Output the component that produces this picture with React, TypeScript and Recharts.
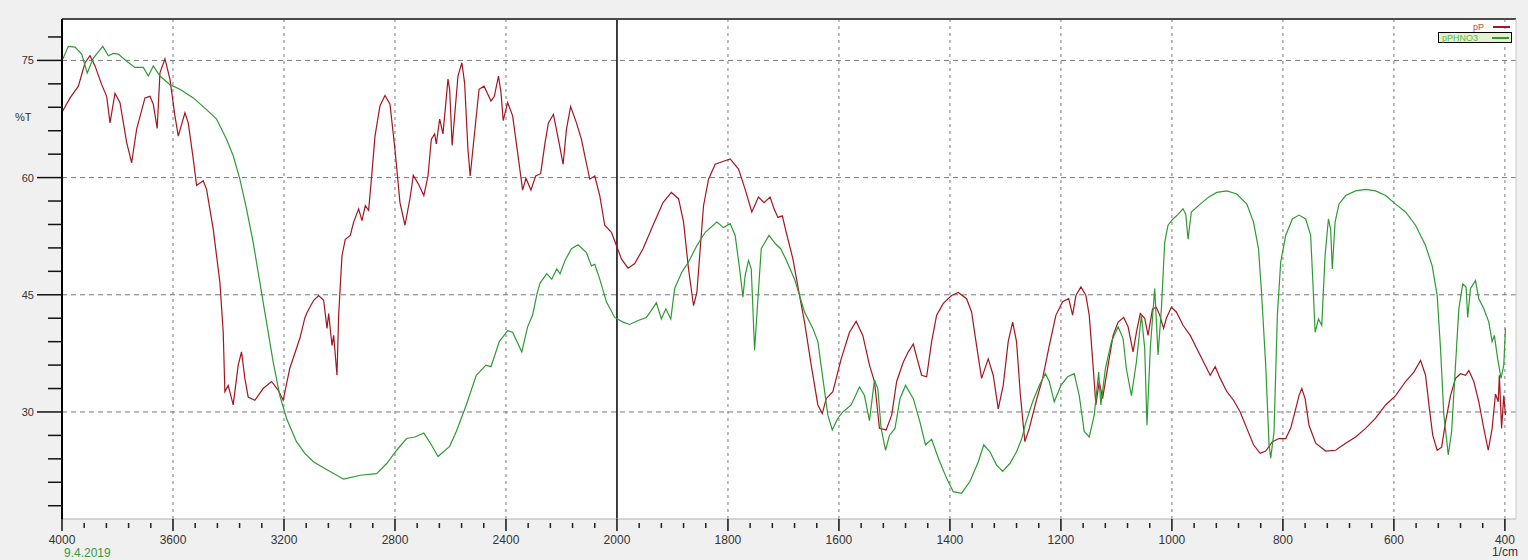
import React from "react";
import { LineChart, Line, XAxis, YAxis, CartesianGrid, ReferenceLine } from "recharts";

// wavenumber (1/cm), %T
const pPWave = [
  3998, 3971, 3941, 3917, 3899, 3881, 3857, 3839, 3827, 3809, 3791, 3767, 3749, 3731, 3701, 3683, 3671, 3657, 3647, 3629,
  3611, 3593, 3581, 3557, 3545, 3527, 3515, 3491, 3479, 3455, 3431, 3419, 3413, 3401, 3383, 3365, 3353, 3341, 3329, 3305,
  3275, 3245, 3221, 3203, 3179, 3143, 3125, 3116, 3093, 3075, 3057, 3045, 3039, 3027, 3021, 3009, 3003, 2991, 2979, 2961,
  2949, 2931, 2919, 2907, 2895, 2884, 2872, 2854, 2836, 2818, 2800, 2782, 2764, 2746, 2734, 2716, 2696, 2681, 2669, 2657,
  2651, 2639, 2627, 2621, 2609, 2603, 2594, 2585, 2573, 2559, 2549, 2537, 2529, 2513, 2497, 2479, 2454, 2442, 2427, 2418,
  2410, 2394, 2376, 2358, 2340, 2328, 2310, 2293, 2275, 2259, 2247, 2229, 2211, 2194, 2182, 2167, 2146, 2128, 2116, 2098,
  2080, 2062, 2044, 2020, 2002, 1992, 1980, 1968, 1953, 1935, 1917, 1902, 1889, 1880, 1871, 1862, 1856, 1850, 1844, 1835,
  1823, 1808, 1796, 1781, 1769, 1757, 1745, 1735, 1724, 1717, 1710, 1702, 1695, 1683, 1671, 1662, 1650, 1638, 1630, 1623,
  1611, 1596, 1581, 1569, 1557, 1545, 1536, 1527, 1515, 1505, 1496, 1484, 1475, 1466, 1459, 1451, 1442, 1433, 1424, 1412,
  1397, 1385, 1370, 1361, 1352, 1343, 1331, 1322, 1313, 1304, 1295, 1287, 1280, 1273, 1265, 1257, 1245, 1233, 1221, 1209,
  1197, 1186, 1179, 1173, 1164, 1155, 1149, 1143, 1137, 1131, 1125, 1115, 1106, 1097, 1087, 1079, 1070, 1064, 1057, 1049,
  1043, 1035, 1028, 1022, 1015, 1010, 1001, 992, 980, 967, 955, 943, 931, 922, 913, 901, 889, 877, 865, 853,
  841, 831, 819, 807, 795, 786, 777, 771, 766, 760, 753, 741, 723, 705, 687, 669, 651, 633, 615, 597,
  579, 564, 552, 543, 536, 530, 522, 514, 507, 498, 489, 480, 471, 465, 456, 447, 438, 430, 423, 417,
  412, 410, 406, 402, 399,
];
const pPT = [
  68.5, 70.2, 71.7, 74.7, 75.6, 74.3, 71.9, 70.4, 67.0, 70.8, 69.6, 64.5, 61.9, 66.2, 70.2, 70.4, 69.4, 66.3, 73.4, 75.2,
  72.6, 67.9, 65.3, 68.3, 67.0, 62.4, 59.0, 59.6, 58.5, 53.4, 46.6, 40.2, 32.6, 33.4, 30.9, 36.0, 37.7, 34.3, 31.9, 31.5,
  33.0, 33.9, 32.8, 31.5, 35.6, 39.4, 42.0, 42.8, 44.3, 44.9, 44.3, 40.7, 42.6, 38.5, 39.8, 34.7, 42.4, 50.0, 52.1, 52.6,
  54.3, 56.0, 54.5, 56.4, 55.8, 60.2, 65.3, 69.2, 70.5, 69.4, 63.6, 56.8, 53.9, 57.3, 60.3, 59.2, 57.7, 60.2, 64.9, 65.6,
  64.3, 67.5, 65.6, 67.9, 72.6, 71.3, 64.1, 67.9, 73.0, 74.7, 72.1, 63.6, 60.2, 65.8, 71.3, 71.7, 69.8, 70.4, 73.0, 70.9,
  67.3, 69.6, 67.9, 63.2, 58.4, 59.9, 58.4, 60.2, 60.5, 64.5, 67.0, 68.1, 64.9, 61.7, 66.2, 69.1, 67.0, 64.9, 62.8, 59.8,
  60.2, 57.7, 53.9, 53.0, 51.3, 49.6, 48.4, 49.0, 50.9, 53.9, 56.8, 58.1, 57.3, 54.3, 48.3, 43.6, 45.3, 50.9, 56.4, 59.8,
  61.7, 62.1, 62.4, 61.1, 58.5, 55.6, 57.5, 56.8, 57.5, 56.0, 54.9, 55.1, 53.0, 49.6, 44.9, 41.5, 36.0, 30.9, 29.8, 31.7,
  32.6, 36.8, 40.2, 41.6, 39.8, 36.0, 33.9, 27.9, 27.7, 29.6, 33.9, 36.4, 37.7, 38.7, 36.8, 34.7, 34.5, 39.0, 42.4, 43.9,
  44.9, 45.3, 44.5, 42.8, 38.5, 34.3, 36.8, 34.7, 30.4, 33.4, 39.0, 41.5, 39.0, 32.1, 26.2, 27.9, 31.3, 34.3, 38.5, 42.4,
  44.1, 44.5, 42.4, 44.9, 46.0, 44.9, 42.4, 36.8, 30.9, 33.9, 31.7, 36.0, 39.8, 41.5, 42.1, 40.9, 37.7, 40.2, 42.6, 42.0,
  39.8, 43.2, 43.4, 42.4, 40.7, 42.0, 43.4, 42.8, 41.1, 39.8, 38.1, 36.4, 34.7, 35.8, 34.3, 32.6, 31.5, 30.0, 27.9, 25.8,
  24.7, 25.0, 26.2, 26.6, 26.6, 27.9, 30.4, 32.1, 33.0, 31.7, 28.3, 26.0, 25.0, 25.1, 26.0, 26.8, 27.9, 29.2, 30.9, 32.1,
  33.9, 35.1, 36.6, 34.7, 30.4, 27.0, 25.1, 25.5, 28.7, 32.1, 34.3, 34.9, 34.7, 35.3, 33.9, 31.3, 27.9, 25.1, 27.9, 32.3,
  31.3, 34.7, 27.9, 32.1, 29.6,
];

const pPHNO3Wave = [
  3998, 3977, 3953, 3929, 3909, 3887, 3869, 3853, 3833, 3815, 3797, 3767, 3737, 3707, 3689, 3671, 3647, 3611, 3575, 3527,
  3479, 3443, 3407, 3383, 3359, 3335, 3311, 3287, 3263, 3239, 3215, 3191, 3155, 3125, 3093, 3045, 2985, 2925, 2866, 2830,
  2794, 2758, 2728, 2696, 2669, 2645, 2603, 2579, 2543, 2507, 2472, 2454, 2424, 2394, 2376, 2343, 2322, 2304, 2287, 2277,
  2253, 2235, 2217, 2205, 2187, 2164, 2140, 2110, 2092, 2080, 2062, 2038, 2008, 1989, 1977, 1962, 1947, 1938, 1929, 1920,
  1912, 1903, 1896, 1883, 1871, 1856, 1841, 1820, 1808, 1796, 1787, 1779, 1773, 1769, 1763, 1758, 1752, 1746, 1740, 1726,
  1714, 1705, 1696, 1680, 1671, 1662, 1647, 1638, 1629, 1620, 1612, 1602, 1593, 1578, 1563, 1554, 1545, 1536, 1530, 1524,
  1516, 1509, 1499, 1490, 1480, 1466, 1454, 1444, 1433, 1421, 1406, 1394, 1379, 1364, 1349, 1339, 1328, 1316, 1305, 1292,
  1280, 1271, 1263, 1251, 1239, 1228, 1221, 1212, 1200, 1188, 1176, 1167, 1158, 1149, 1140, 1132, 1128, 1120, 1109, 1097,
  1088, 1082, 1073, 1064, 1055, 1049, 1045, 1039, 1031, 1025, 1019, 1013, 1007, 998, 989, 980, 975, 971, 965, 949,
  934, 919, 901, 883, 865, 853, 844, 839, 831, 825, 822, 816, 810, 804, 795, 783, 771, 759, 750, 746,
  742, 736, 730, 724, 718, 714, 711, 706, 699, 687, 669, 651, 633, 615, 597, 579, 561, 543, 531, 522,
  516, 510, 502, 496, 489, 483, 476, 470, 467, 462, 453, 447, 438, 429, 423, 419, 413, 407, 402, 399,
];
const pPHNO3T = [
  75.1, 76.8, 76.7, 75.8, 73.4, 75.3, 76.1, 76.8, 75.6, 75.9, 75.8, 74.9, 74.1, 74.1, 73.0, 74.3, 73.0, 71.9, 71.3, 70.2,
  68.7, 67.5, 64.9, 62.8, 59.8, 56.0, 51.7, 46.6, 41.5, 36.4, 32.1, 29.2, 26.2, 24.7, 23.6, 22.6, 21.4, 21.9, 22.1, 23.4,
  25.1, 26.6, 26.8, 27.3, 25.8, 24.3, 25.6, 27.5, 30.9, 34.7, 36.0, 35.8, 39.0, 40.4, 40.2, 37.7, 40.9, 42.4, 45.3, 46.5,
  47.7, 47.0, 48.3, 47.7, 49.4, 50.9, 51.4, 50.4, 48.7, 48.9, 47.0, 44.1, 42.1, 41.5, 41.2, 41.7, 42.1, 43.0, 44.0, 41.9,
  43.2, 41.9, 45.8, 47.9, 49.2, 51.3, 53.0, 54.3, 53.6, 54.1, 52.6, 48.3, 44.7, 47.5, 49.4, 48.3, 37.9, 44.5, 50.9, 52.6,
  51.5, 50.9, 49.6, 47.0, 44.9, 42.8, 40.7, 39.0, 34.3, 29.6, 27.7, 29.2, 30.0, 30.9, 33.2, 32.1, 28.9, 34.1, 33.0, 27.9,
  25.1, 27.0, 27.9, 31.7, 33.4, 31.7, 28.7, 25.8, 26.5, 24.1, 21.5, 19.8, 19.6, 21.1, 23.6, 25.8, 24.9, 23.2, 22.4, 23.4,
  24.9, 26.5, 28.7, 31.3, 33.4, 34.9, 33.9, 31.3, 33.4, 34.5, 34.9, 32.1, 27.5, 26.8, 29.6, 35.1, 30.9, 35.5, 39.0, 40.9,
  39.4, 35.5, 32.1, 36.4, 42.4, 38.1, 28.3, 38.1, 45.8, 37.3, 43.2, 51.7, 53.9, 54.7, 55.3, 56.0, 55.3, 52.1, 55.6, 56.6,
  57.5, 58.1, 58.3, 57.9, 56.6, 54.3, 50.9, 45.8, 36.0, 25.8, 24.1, 27.5, 42.4, 49.2, 52.6, 54.7, 55.2, 54.7, 52.6, 46.6,
  40.2, 41.9, 41.1, 50.0, 54.7, 53.4, 48.3, 54.3, 56.6, 57.7, 58.3, 58.5, 58.3, 57.7, 56.6, 55.6, 53.9, 51.3, 48.7, 44.9,
  38.1, 29.6, 24.5, 27.5, 36.0, 43.2, 46.4, 46.0, 42.1, 45.8, 46.8, 44.5, 43.2, 41.5, 39.0, 39.8, 36.8, 34.3, 36.0, 40.7,
];

const xTickLabels = ["4000", "3600", "3200", "2800", "2400", "2000", "1800", "1600", "1400", "1200", "1000", "800", "600", "400"];
const yTickLabels = [30, 45, 60, 75];
const yMinorTicks = [18, 21, 24, 27, 30, 33, 36, 39, 42, 45, 48, 51, 54, 57, 60, 63, 66, 69, 72, 75, 78];

// scale changes at 2000 1/cm: 400 per division above, 200 per division below
const toAxis = (w: number) => (w >= 2000 ? (4000 - w) / 400 : 5 + (2000 - w) / 200);

const pPData = pPWave.map((w, i) => ({ u: toAxis(w), t: pPT[i] }));
const pPHNO3Data = pPHNO3Wave.map((w, i) => ({ u: toAxis(w), t: pPHNO3T[i] }));

const X_MAX = 13.1;
const Y_MIN = 16.3;
const Y_MAX = 80.3;
const xTicks = Array.from({ length: 66 }, (_, i) => i / 5);

const RED = "#a3161f";
const GREEN = "#2e9a33";
const FONT = "'Liberation Sans', Arial, sans-serif";

const XTick = (props: any) => {
  const { x, y, payload } = props;
  const v = payload.value;
  const major = Math.abs(v - Math.round(v)) < 1e-6;
  const idx = Math.round(v);
  return (
    <g>
      {major ? (
        <line x1={x} x2={x} y1={y} y2={y + 12} stroke="#111" strokeWidth={1.5} />
      ) : (
        <line x1={x} x2={x} y1={y + 4} y2={y + 9} stroke="#222" strokeWidth={1.5} />
      )}
      {major && (
        <text x={x} y={y + 25} textAnchor="middle" fontSize={12} fill="#333" fontFamily={FONT}>
          {xTickLabels[idx]}
        </text>
      )}
      {major && idx === 0 && (
        <text x={x + 2} y={y + 38} fontSize={12} fill="#3a9a3a" fontFamily={FONT}>
          9.4.2019
        </text>
      )}
      {major && idx === 13 && (
        <text x={x + 13} y={y + 37} textAnchor="end" fontSize={12} fill="#333" fontFamily={FONT}>
          1/cm
        </text>
      )}
    </g>
  );
};

const YTick = (props: any) => {
  const { x, y, payload } = props;
  const major = yTickLabels.includes(payload.value);
  return (
    <g>
      <line x1={x - (major ? 25 : 14)} x2={x} y1={y} y2={y} stroke="#111" strokeWidth={1.5} />
      {major && (
        <text x={x - 28} y={y + 4} textAnchor="end" fontSize={11} fill="#333" fontFamily={FONT}>
          {payload.value}
        </text>
      )}
    </g>
  );
};

export default function App() {
  return (
    <div style={{ position: "absolute", left: 0, top: 0, width: 1528, height: 560, background: "#f0f0f0", fontFamily: FONT }}>
      <LineChart width={1528} height={560} margin={{ top: 19, right: 12, left: 0, bottom: 0 }}>
        <CartesianGrid fill="#ffffff" horizontal={false} vertical={false} />
        <XAxis
          type="number"
          dataKey="u"
          domain={[0, X_MAX]}
          allowDataOverflow
          ticks={xTicks}
          interval={0}
          tick={<XTick />}
          tickLine={false}
          tickSize={0}
          tickMargin={0}
          height={41}
          axisLine={{ stroke: "#b0b0b0" }}
        />
        <YAxis
          type="number"
          domain={[Y_MIN, Y_MAX]}
          allowDataOverflow
          ticks={yMinorTicks}
          interval={0}
          tick={<YTick />}
          tickLine={false}
          tickSize={0}
          tickMargin={0}
          width={62}
          axisLine={{ stroke: "#000", strokeWidth: 2 }}
        />
        {yTickLabels.map((v) => (
          <ReferenceLine key={"h" + v} y={v} stroke="#7a7a7a" strokeDasharray="5 4" />
        ))}
        {xTickLabels.map((_, i) =>
          i === 0 || i === 5 ? null : (
            <ReferenceLine key={"v" + i} x={i} stroke="#7a7a7a" strokeDasharray="3 4" />
          )
        )}
        <ReferenceLine x={5} stroke="#000" strokeWidth={1.5} />
        <ReferenceLine y={Y_MAX} stroke="#4a4a4a" strokeWidth={2} />
        <ReferenceLine x={X_MAX} stroke="#c8c8c8" strokeWidth={1} />
        <Line
          data={pPData}
          dataKey="t"
          type="linear"
          stroke={RED}
          strokeWidth={1.2}
          dot={false}
          isAnimationActive={false}
        />
        <Line
          data={pPHNO3Data}
          dataKey="t"
          type="linear"
          stroke={GREEN}
          strokeWidth={1.2}
          dot={false}
          isAnimationActive={false}
        />
      </LineChart>
      <div style={{ position: "absolute", left: 15, top: 111, fontSize: 11, color: "#333" }}>%T</div>
      <div style={{ position: "absolute", left: 1438, top: 21, width: 74, fontSize: 9, lineHeight: "10px" }}>
        <div style={{ display: "flex", justifyContent: "flex-end", alignItems: "center", height: 11 }}>
          <span style={{ color: "#d04040" }}>pP</span>
          <span style={{ display: "inline-block", width: 17, height: 2, background: RED, marginLeft: 9, marginRight: 2 }} />
        </div>
        <div
          style={{
            display: "flex",
            justifyContent: "space-between",
            alignItems: "center",
            height: 9,
            border: "1px solid #000",
            background: "#e4f3cf",
            padding: "0 2px 0 3px",
          }}
        >
          <span style={{ color: "#5cb84a" }}>pPHNO3</span>
          <span style={{ display: "inline-block", width: 17, height: 2, background: GREEN }} />
        </div>
      </div>
    </div>
  );
}
